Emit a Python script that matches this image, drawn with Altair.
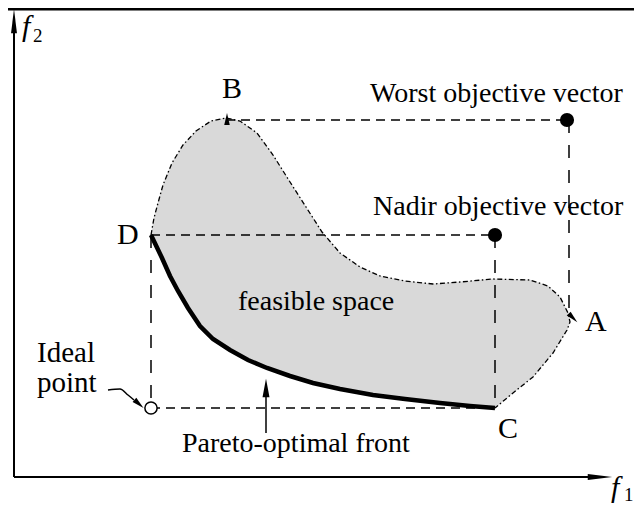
import altair as alt
import pandas as pd

# ---- readings (diagram units: origin at the axes corner) ----
# feasible-region boundary drawn dash-dot: D -> B -> A -> C
bnd_f1 = [137, 140, 144, 149, 158, 169, 182, 197, 212, 226, 243, 259, 276, 292, 308, 326,
          346, 366, 391, 419, 446, 479, 516, 534, 546, 554, 556, 553, 539, 519, 499, 481]
bnd_f2 = [242, 259, 274, 292, 314, 332, 346, 356, 359, 356, 344, 322, 295, 270, 245, 224,
          210, 201, 196, 193, 195, 198, 197, 191, 180, 164, 155, 147, 124, 100, 84, 69]
# Pareto-optimal front: C -> D
par_f1 = [481, 456, 426, 391, 359, 326, 299, 276, 253, 234, 216, 199, 186, 174, 164, 156, 148, 137]
par_f2 = [69, 71, 74, 78, 82, 88, 94, 101, 109, 117, 127, 138, 151, 169, 186, 201, 219, 242]

# dashed guides
h_x1 = [212, 137, 137]
h_x2 = [553, 481, 481]
h_y = [357, 242, 69]
v_x = [555, 481, 137]
v_y1 = [357, 242, 242]
v_y2 = [167, 69, 69]

# special points
solid_names = ["Worst", "Nadir"]
solid_f1 = [553, 481]
solid_f2 = [357, 242]
ideal_f1 = [137]
ideal_f2 = [69]

# labels
big_txt = ["B", "D", "A", "C"]
big_x = [208, 103, 571, 484]
big_y = [379, 233, 146, 39]
mid_txt = ["Worst objective vector", "Nadir objective vector", "feasible space", "Pareto-optimal front"]
mid_x = [356, 359, 224, 168]
mid_y = [375, 262, 167, 25]
ideal_txt = ["Ideal", "point"]
ideal_x = [23, 23]
ideal_y = [115, 85]
axis_txt = ["f", "f"]
axis_x = [597, 8]
axis_y = [-20, 441]
sub_txt = ["1", "2"]
sub_x = [610, 19]
sub_y = [-24, 435]

# axis lines
ax_x1 = [0, 0]
ax_y1 = [0, 0]
ax_x2 = [0, 576]
ax_y2 = [444, 0]
# arrow heads
axarr_x = [0, 586]
axarr_y = [456, 0]
axarr_a = [0, 90]
small_x = [213, 559, 125]
small_y = [358, 159, 73]
small_a = [0, 135, 132]
par_arr_x = [252]
par_arr_y = [89]
# arrow shafts
shaft_x1 = [252]
shaft_y1 = [82]
shaft_x2 = [252]
shaft_y2 = [44]
curl_x = [94, 106, 114, 120]
curl_y = [87, 88, 82, 77]

xs = alt.Scale(domain=[-6, 620], nice=False, zero=False)
ys = alt.Scale(domain=[-30, 469], nice=False, zero=False)
X = alt.X("x:Q", scale=xs, axis=None)
Y = alt.Y("y:Q", scale=ys, axis=None)

bnd = pd.DataFrame({"x": bnd_f1, "y": bnd_f2, "i": range(len(bnd_f1))})
par = pd.DataFrame({"x": par_f1, "y": par_f2, "i": range(len(par_f1))})
poly = pd.DataFrame({"x": bnd_f1 + par_f1[1:], "y": bnd_f2 + par_f2[1:],
                     "i": range(len(bnd_f1) + len(par_f1) - 1)})

fill = alt.Chart(poly).mark_line(fill="#d9d9d9", stroke="#d9d9d9", strokeWidth=0.5).encode(
    x=X, y=Y, order="i:Q")
boundary = alt.Chart(bnd).mark_line(color="black", strokeWidth=1.3, strokeDash=[5, 2.5, 1.5, 2.5]).encode(
    x=X, y=Y, order="i:Q")
front = alt.Chart(par).mark_line(color="black", strokeWidth=4.5, strokeCap="butt").encode(
    x=X, y=Y, order="i:Q")

hd = pd.DataFrame({"x": h_x1, "x2": h_x2, "y": h_y})
vd = pd.DataFrame({"x": v_x, "y": v_y1, "y2": v_y2})
hdash = alt.Chart(hd).mark_rule(color="black", strokeWidth=1.5, strokeDash=[9, 6]).encode(
    x=X, x2="x2:Q", y=Y)
vdash = alt.Chart(vd).mark_rule(color="black", strokeWidth=1.5, strokeDash=[13, 12]).encode(
    x=X, y=Y, y2="y2:Q")

top_border = alt.Chart(pd.DataFrame({"x": [-6], "x2": [620], "y": [468]})).mark_rule(
    color="black", strokeWidth=3).encode(x=X, x2="x2:Q", y=Y)

axes = alt.Chart(pd.DataFrame({"x": ax_x1, "y": ax_y1, "x2": ax_x2, "y2": ax_y2})).mark_rule(
    color="black", strokeWidth=2).encode(x=X, y=Y, x2="x2:Q", y2="y2:Q")

narrow = "M0,-1L0.24,1L-0.24,1Z"
medium = "M0,-1L0.38,1L-0.38,1Z"
wide = "M0,-1L0.45,1L-0.45,1Z"
ax_arrows = alt.Chart(pd.DataFrame({"x": axarr_x, "y": axarr_y, "a": axarr_a})).mark_point(
    shape=narrow, size=600, filled=True, color="black", opacity=1).encode(
    x=X, y=Y, angle=alt.Angle("a:Q", scale=None))
small_arrows = alt.Chart(pd.DataFrame({"x": small_x, "y": small_y, "a": small_a})).mark_point(
    shape=wide, size=150, filled=True, color="black", opacity=1).encode(
    x=X, y=Y, angle=alt.Angle("a:Q", scale=None))
par_arrow = alt.Chart(pd.DataFrame({"x": par_arr_x, "y": par_arr_y})).mark_point(
    shape=medium, size=340, filled=True, color="black", opacity=1).encode(x=X, y=Y)
shaft = alt.Chart(pd.DataFrame({"x": shaft_x1, "y": shaft_y1, "y2": shaft_y2})).mark_rule(
    color="black", strokeWidth=1.5).encode(x=X, y=Y, y2="y2:Q")
curl = alt.Chart(pd.DataFrame({"x": curl_x, "y": curl_y, "i": range(len(curl_x))})).mark_line(
    color="black", strokeWidth=1.5, interpolate="monotone").encode(x=X, y=Y, order="i:Q")

solid = alt.Chart(pd.DataFrame({"x": solid_f1, "y": solid_f2, "n": solid_names})).mark_point(
    shape="circle", size=200, filled=True, color="black", opacity=1).encode(x=X, y=Y)
ideal = alt.Chart(pd.DataFrame({"x": ideal_f1, "y": ideal_f2})).mark_point(
    shape="circle", size=150, fill="white", stroke="black", strokeWidth=1.5, opacity=1).encode(x=X, y=Y)

def texts(txt, tx, ty, size, style="normal"):
    return alt.Chart(pd.DataFrame({"x": tx, "y": ty, "t": txt})).mark_text(
        align="left", baseline="alphabetic", font="Liberation Serif", fontSize=size,
        fontStyle=style, color="black").encode(x=X, y=Y, text="t:N")

chart = alt.layer(
    fill, hdash, vdash, boundary, front, axes, top_border,
    ax_arrows, small_arrows, par_arrow, shaft, curl, solid, ideal,
    texts(big_txt, big_x, big_y, 30),
    texts(mid_txt, mid_x, mid_y, 28),
    texts(ideal_txt, ideal_x, ideal_y, 29),
    texts(axis_txt, axis_x, axis_y, 30, "italic"),
    texts(sub_txt, sub_x, sub_y, 19),
).properties(
    width=626, height=499, padding=0, background="white",
    autosize=alt.AutoSizeParams(type="none"),
).configure_view(stroke="transparent")

chart.save("out.html", embed_options={"renderer": "svg", "actions": False})
